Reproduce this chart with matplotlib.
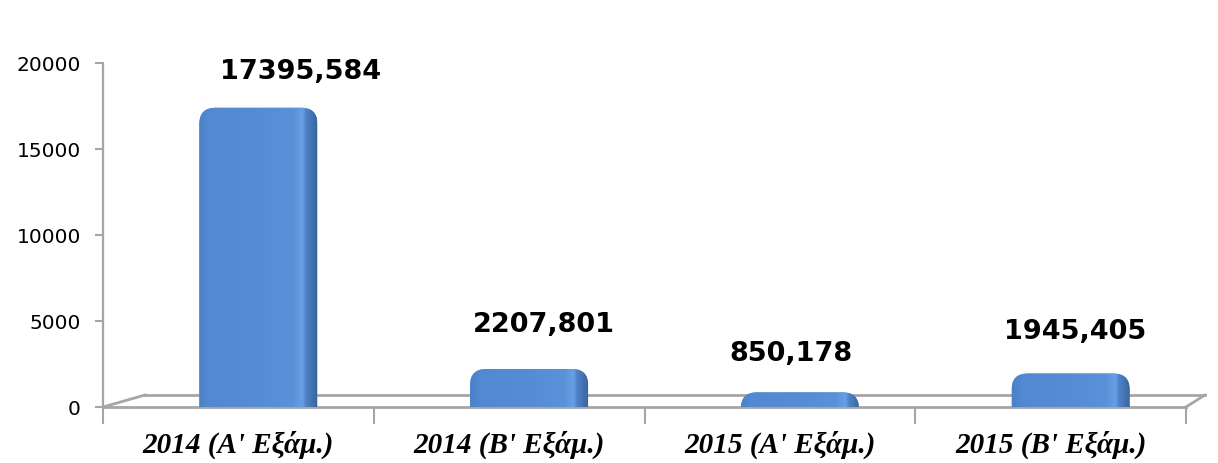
import numpy as np
import matplotlib
matplotlib.use("Agg")
from matplotlib import pyplot as plt
from matplotlib.patches import FancyBboxPatch
from matplotlib.colors import LinearSegmentedColormap

# δεδομένα
categories = ["2014 (Α' Εξάμ.)", "2014 (Β' Εξάμ.)", "2015 (Α' Εξάμ.)", "2015 (Β' Εξάμ.)"]
values = [17395.584, 2207.801, 850.178, 1945.405]
value_labels = ["17395,584", "2207,801", "850,178", "1945,405"]
y_ticks = [0, 5000, 10000, 15000, 20000]

# θέσεις ετικετών (μετατόπιση σε x, ύψος πάνω από τη μπάρα)
label_dx = [0.23, 0.13, 0.04, 0.09]
label_dy = [2150, 2600, 2300, 2450]

fig = plt.figure(figsize=(12.18, 4.64), dpi=100)
ax = fig.add_axes([103 / 1218, 56 / 464, (1186 - 103) / 1218, 344 / 464])
ax.set_xlim(-0.5, 3.5)
ax.set_ylim(0, 20000)

grey = "#a6a6a6"
for s in ["top", "right", "bottom"]:
    ax.spines[s].set_visible(False)
ax.spines["left"].set_color(grey)
ax.spines["left"].set_linewidth(1.6)

# "3D" δάπεδο
px_x = 4 / 1083.0
px_y = 20000 / 344.0
dx, dy = 42 * px_x, 12 * px_y
ax.plot([-0.5, 3.5], [0, 0], color=grey, lw=2, clip_on=False, zorder=1)
ax.plot([-0.5 + dx, 3.5 + dx * 0.45], [dy, dy], color=grey, lw=2, clip_on=False, zorder=1)
ax.plot([-0.5, -0.5 + dx], [0, dy], color=grey, lw=2, clip_on=False, zorder=1)
ax.plot([3.5, 3.5 + dx * 0.45], [0, dy], color=grey, lw=2, clip_on=False, zorder=1)

# μπάρες: στρογγυλεμένες πάνω γωνίες, διαβάθμιση
cmap = LinearSegmentedColormap.from_list(
    "bar", [(0.0, "#4a80c8"), (0.08, "#5289d1"), (0.5, "#558cd3"), (0.8, "#5a92da"),
            (0.88, "#68a0e2"), (0.91, "#4f82c6"), (1.0, "#3a66a0")])
grad = np.linspace(0, 1, 256).reshape(1, -1)
x = np.arange(len(categories))
bw = 118 * px_x
off = 20 * px_x
aspect = px_y / px_x
r = 16 * px_x
ext = r * aspect  # κάτω μέρος κρυμμένο κάτω από το 0 -> ίσιες κάτω γωνίες
for i, v in enumerate(values):
    x0 = x[i] + off - bw / 2
    p = FancyBboxPatch((x0, -ext), bw, v + ext,
                       boxstyle="round,pad=0,rounding_size=%f" % r,
                       mutation_aspect=aspect, fc="#558ed5", ec="none", zorder=2)
    ax.add_patch(p)
    im = ax.imshow(grad, extent=[x0, x0 + bw, -ext, v], aspect="auto", cmap=cmap, zorder=3)
    im.set_clip_path(p)
    ax.text(x[i] + label_dx[i], v + label_dy[i], value_labels[i], ha="center", va="center",
            fontsize=19.5, fontweight="bold", family="DejaVu Sans", color="black")

ax.set_xlim(-0.5, 3.5)
ax.set_ylim(0, 20000)

ax.set_yticks(y_ticks)
ax.set_yticklabels([str(t) for t in y_ticks], fontsize=14.5, color="black")
ax.tick_params(axis="y", length=6, width=1.5, color=grey, pad=10)

# κατηγορίες και υποδιαιρέσεις
ax.set_xticks(np.arange(-0.5, 4, 1.0))
ax.set_xticklabels([])
ax.tick_params(axis="x", length=12, width=1.5, color=grey)
for i, c in enumerate(categories):
    ax.text(x[i], -0.108, c, transform=ax.get_xaxis_transform(), ha="center", va="center",
            fontsize=21, fontweight="bold", fontstyle="italic", family="Liberation Serif")

fig.savefig("out.png", dpi=100)
